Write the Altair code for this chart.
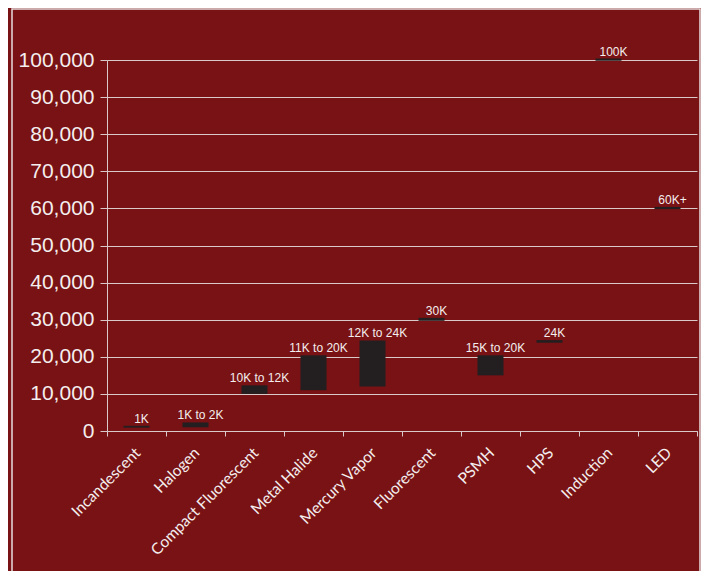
import altair as alt
import pandas as pd

categories = ["Incandescent", "Halogen", "Compact Fluorescent", "Metal Halide",
              "Mercury Vapor", "Fluorescent", "PSMH", "HPS", "Induction", "LED"]
low = [900, 1000, 10000, 11000, 12000, 29700, 15000, 23800, 99800, 59800]
high = [1400, 2300, 12300, 20400, 24400, 30500, 20400, 24500, 100400, 60400]
labels = ["1K", "1K to 2K", "10K to 12K", "11K to 20K", "12K to 24K",
          "30K", "15K to 20K", "24K", "100K", "60K+"]
y_ticks = [0, 10000, 20000, 30000, 40000, 50000, 60000, 70000, 80000, 90000, 100000]

df = pd.DataFrame({"cat": categories, "low": low, "high": high, "label": labels})

BG = "#781214"
LINE = "#d9c9c9"
TXT = "#f4eeee"

x_axis = alt.Axis(
    title=None, labelAngle=-45, labelFont="Lato", labelFontSize=15.5,
    labelColor=TXT, tickBand="extent", tickSize=5, tickColor=LINE,
    domainColor=LINE, labelPadding=9, labelOffset=-4, grid=False,
    labelOverlap=False,
)
x_scale = alt.Scale(paddingInner=0, paddingOuter=0)

y_axis = alt.Axis(
    title=None, values=y_ticks, format=",.0f", labelFont="Liberation Sans",
    labelFontSize=21, labelColor=TXT, tickSize=7, tickColor=LINE,
    domainColor=LINE, gridColor=LINE, labelPadding=6, labelOverlap=False,
)
y_scale = alt.Scale(domain=[0, 100000], nice=False)

base = alt.Chart(df)

bars = base.mark_bar(size=26, color="#231f20").encode(
    x=alt.X("cat:N", sort=categories, scale=x_scale, axis=x_axis),
    y=alt.Y("low:Q", scale=y_scale, axis=y_axis),
    y2="high:Q",
)

text = base.mark_text(
    baseline="alphabetic", dy=-3, dx=5, fontSize=12, font="Liberation Sans", color=TXT
).encode(
    x=alt.X("cat:N", sort=categories, scale=x_scale, axis=x_axis),
    y=alt.Y("high:Q", scale=y_scale, axis=y_axis),
    text="label:N",
)

border = alt.Chart(pd.DataFrame({"a": [0]})).mark_rect(
    fillOpacity=0, stroke="#e8dcdc", strokeWidth=1.5
).encode(x=alt.value(-95), x2=alt.value(593), y=alt.value(-51), y2=alt.value(540))

chart = alt.layer(border, bars, text).properties(
    width=590,
    height=371,
    background=BG,
    padding={"left": 99, "top": 52, "right": 4, "bottom": 140},
    autosize=alt.AutoSizeParams(type="none"),
).configure_view(strokeOpacity=0)

chart.save("out.html", embed_options={"renderer": "svg", "actions": False})
